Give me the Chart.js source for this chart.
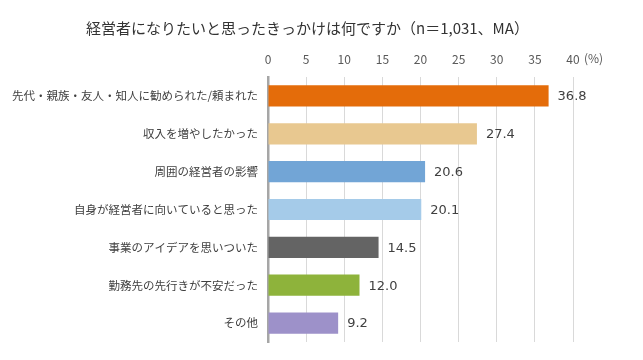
<!DOCTYPE html>
<html>
<head>
<meta charset="utf-8">
<script src="https://cdn.jsdelivr.net/npm/chart.js@4/dist/chart.umd.min.js"></script>
<style>
  html, body { margin: 0; padding: 0; background: #fff; }
  #wrap { width: 643px; height: 360px; position: relative; }
</style>
</head>
<body>
<div id="wrap"><canvas id="reasonChart"></canvas></div>
<script>
const titleText = '経営者になりたいと思ったきっかけは何ですか（n＝1,031、MA）';
const categories = [
  '先代・親族・友人・知人に勧められた/頼まれた',
  '収入を増やしたかった',
  '周囲の経営者の影響',
  '自身が経営者に向いていると思った',
  '事業のアイデアを思いついた',
  '勤務先の先行きが不安だった',
  'その他'
];
const percentValues = [36.8, 27.4, 20.6, 20.1, 14.5, 12.0, 9.2];
const barColors = ['#e46c0a', '#e8c890', '#72a5d6', '#a5cbe9', '#646464', '#8eb33b', '#9d91c9'];
const tickValues = [0, 5, 10, 15, 20, 25, 30, 35, 40];

const jpFont = '"Noto Sans CJK JP", "Noto Sans", sans-serif';

// title, unit and value labels drawn on top of the bars
const extraText = {
  id: 'extraText',
  afterDatasetsDraw(chart) {
    const ctx = chart.ctx;
    const xScale = chart.scales.x;
    ctx.save();
    ctx.fillStyle = '#333333';
    ctx.font = '15px ' + jpFont;
    ctx.textBaseline = 'middle';
    ctx.textAlign = 'left';
    ctx.fillText(titleText, 86, 28);

    ctx.fillStyle = '#595959';
    ctx.font = '12px ' + jpFont;
    ctx.fillText('(%)', xScale.getPixelForValue(40) + 11, 58);

    ctx.fillStyle = '#404040';
    ctx.font = '13px "DejaVu Sans", sans-serif';
    const meta = chart.getDatasetMeta(0);
    meta.data.forEach((bar, i) => {
      ctx.fillText(percentValues[i].toFixed(1), bar.x + 9, bar.y + 1);
    });
    ctx.restore();
  }
};

const config = {
  type: 'bar',
  data: {
    labels: categories,
    datasets: [
      {
        data: percentValues,
        backgroundColor: barColors,
        borderWidth: 0,
        barPercentage: 0.56,
        categoryPercentage: 1.0
      }
    ]
  },
  options: {
    indexAxis: 'y',
    responsive: false,
    animation: false,
    layout: { padding: { top: 0, right: 70, bottom: 18, left: 0 } },
    plugins: {
      legend: { display: false },
      title: { display: false },
      tooltip: { enabled: false }
    },
    scales: {
      x: {
        position: 'top',
        min: 0,
        max: 40,
        afterBuildTicks: scale => {
          scale.ticks = tickValues.map(v => ({ value: v }));
        },
        afterFit: scale => { scale.height = 77; },
        ticks: {
          color: '#595959',
          font: { size: 12, family: jpFont },
          padding: 10
        },
        grid: { color: '#d9d9d9', lineWidth: 1, drawTicks: false },
        border: { display: false }
      },
      y: {
        afterFit: scale => { scale.width = 268; },
        ticks: {
          color: '#404040',
          font: { size: 11.5, family: jpFont },
          padding: 10
        },
        grid: { display: false, drawTicks: false },
        border: { color: '#a6a6a6', width: 2.5 }
      }
    }
  },
  plugins: [extraText]
};

const canvas = document.getElementById('reasonChart');
canvas.width = 643;
canvas.height = 360;
const reasonChart = new Chart(canvas, config);
</script>
</body>
</html>
